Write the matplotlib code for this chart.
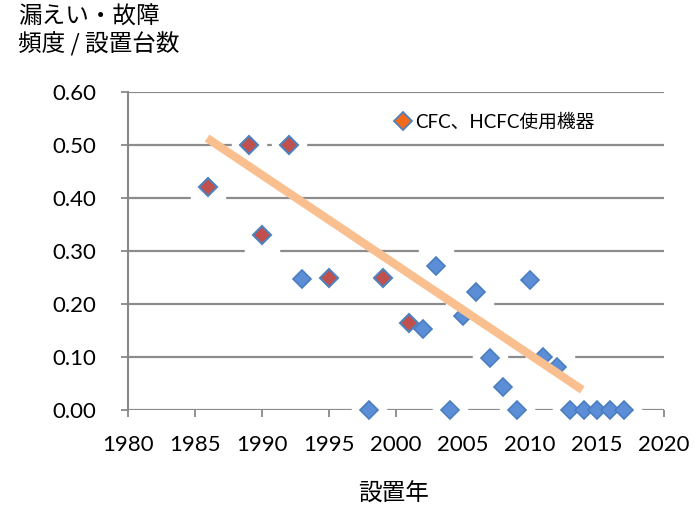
import matplotlib
matplotlib.use("Agg")
import matplotlib.pyplot as plt
from matplotlib.lines import Line2D

# Data
cfc_years = [1986, 1989, 1990, 1992, 1995, 1999, 2001]
cfc_values = [0.42, 0.50, 0.33, 0.50, 0.25, 0.25, 0.165]

other_years = [1993, 1998, 2002, 2003, 2004, 2005, 2006, 2007, 2008, 2009,
               2010, 2011, 2012, 2013, 2014, 2015, 2016, 2017]
other_values = [0.248, 0.0, 0.152, 0.272, 0.0, 0.178, 0.222, 0.099, 0.044, 0.0,
                0.246, 0.100, 0.081, 0.0, 0.0, 0.0, 0.0, 0.0]

trend_x = [1985.9, 2013.9]
trend_y = [0.513, 0.038]

xticks = [1980, 1985, 1990, 1995, 2000, 2005, 2010, 2015, 2020]
yticks = [0.0, 0.1, 0.2, 0.3, 0.4, 0.5, 0.6]

legend_label = "CFC、HCFC使用機器"
ylabel_text = "漏えい・故障\n頻度 / 設置台数"
xlabel_text = "設置年"

FAM = ['Lato', 'Noto Sans CJK JP', 'DejaVu Sans']
JP = ['Noto Sans CJK JP', 'DejaVu Sans']
plt.rcParams['font.family'] = FAM

fig = plt.figure(figsize=(6.95, 5.07), dpi=100)
ax = fig.add_axes([128/695, 1-410/507, (664-128)/695, (410-92)/507])

ax.set_xlim(1980, 2020)
ax.set_ylim(0, 0.6)
ax.set_xticks(xticks)
ax.set_yticks(yticks)
ax.set_yticklabels([f"{v:.2f}" for v in yticks])
ax.tick_params(axis='both', labelsize=16, color='#888888', width=1.3, length=5,
               direction='out', labelcolor='black')
ax.tick_params(axis='x', pad=13)
ax.tick_params(axis='y', pad=18)

for s in ['top', 'right', 'bottom']:
    ax.spines[s].set_visible(False)
ax.spines['left'].set_color('#888888')
ax.spines['left'].set_linewidth(1.5)

ax.yaxis.grid(True, color='#8c8c8c', linewidth=1.6, zorder=0)
ax.set_axisbelow(True)

all_x = cfc_years + other_years
all_y = cfc_values + other_values
# white halos
ax.plot(all_x, all_y, linestyle='none', marker='s', markersize=24,
        markerfacecolor='white', markeredgecolor='white', zorder=2, clip_on=False)

ax.plot(other_years, other_values, linestyle='none', marker='D', markersize=9,
        markerfacecolor='#5B8ED6', markeredgecolor='#4A7EC0', markeredgewidth=1.2,
        zorder=3, clip_on=False)
ax.plot(cfc_years, cfc_values, linestyle='none', marker='D', markersize=9,
        markerfacecolor='#C0504D', markeredgecolor='#4F81BD', markeredgewidth=1.5,
        zorder=3, clip_on=False)

ax.plot(trend_x, trend_y, color='#FABF8F', linewidth=6, solid_capstyle='butt', zorder=4)

handle = Line2D([], [], linestyle='none', marker='D', markersize=9,
                markerfacecolor='#F26A1B', markeredgecolor='#4F81BD', markeredgewidth=1.3)
leg = ax.legend([handle], [legend_label], loc='upper left',
                bbox_to_anchor=((388-128)/536, 1 - (106-92)/318), frameon=False,
                handlelength=0.8, handletextpad=0.25, borderaxespad=0,
                prop={'family': FAM, 'size': 13.5})

fig.text(18/695, 1-6/507, ylabel_text, ha='left', va='top', fontsize=17,
         family=JP, linespacing=1.15)
fig.text(394/695, 1-494/507, xlabel_text, ha='center', va='center', fontsize=17,
         family=JP)

fig.savefig('out.png', dpi=100, facecolor='white')
